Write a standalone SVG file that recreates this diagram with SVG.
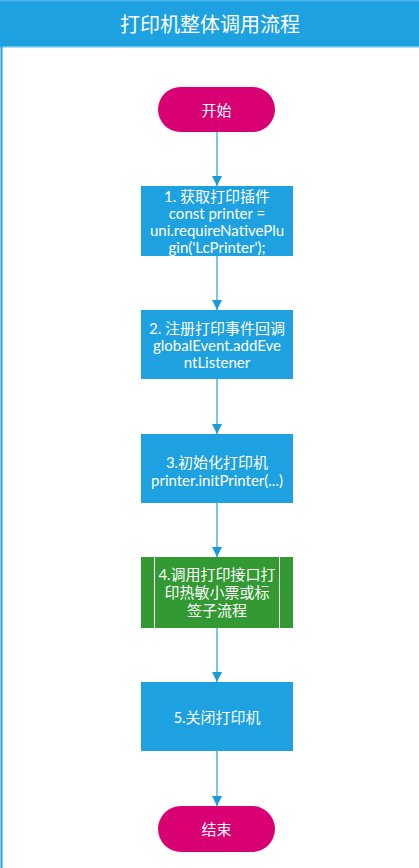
<svg xmlns="http://www.w3.org/2000/svg" width="419" height="868" viewBox="0 0 419 868">
<defs>
<style>
.t{font-family:Lato,"Noto Sans CJK SC",sans-serif;fill:#fff;text-anchor:middle;dominant-baseline:central}
.h{font-family:"Noto Sans CJK SC",sans-serif}
.b{fill:#1ea1e0}
.p{fill:#d80073}
.g{fill:#339933}
.c{stroke:#4fb2e5;stroke-width:1.5;fill:none}
</style>
<marker id="ah" markerWidth="11" markerHeight="10" refX="10" refY="5" orient="auto" markerUnits="userSpaceOnUse">
<path d="M0,0 L10,5 L0,10 Z" fill="#1a9ad8"/>
</marker>
</defs>
<rect width="419" height="868" fill="#fff"/>
<g id="frame">
<rect x="0" y="0" width="419" height="47" fill="#1ea1e0"/>
<rect x="0" y="0" width="419" height="1.5" fill="#45b2ea"/>
<rect x="0" y="46" width="419" height="1.5" fill="#62c0ee"/>
<rect x="0.5" y="46" width="2" height="822" fill="#1ea1e0"/>
<text class="t h" x="210" y="23" font-size="20">打印机整体调用流程</text>
</g>
<g id="connectors">
<line class="c" x1="217" y1="132" x2="217" y2="186" marker-end="url(#ah)"/>
<line class="c" x1="217" y1="256" x2="217" y2="310" marker-end="url(#ah)"/>
<line class="c" x1="217" y1="379" x2="217" y2="434" marker-end="url(#ah)"/>
<line class="c" x1="217" y1="503" x2="217" y2="557" marker-end="url(#ah)"/>
<line class="c" x1="217" y1="628" x2="217" y2="682" marker-end="url(#ah)"/>
<line class="c" x1="217" y1="751" x2="217" y2="806" marker-end="url(#ah)"/>
</g>
<g id="start">
<rect class="p" x="158" y="87" width="117" height="45" rx="22.5"/>
<text class="t" x="216.5" y="109.5" font-size="15">开始</text>
</g>
<g id="step1">
<rect class="b" x="141" y="186" width="152" height="70"/>
<text class="t" font-size="15"><tspan x="217" y="196">1. 获取打印插件</tspan><tspan x="217" y="213">const printer =</tspan><tspan x="217" y="230">uni.requireNativePlu</tspan><tspan x="217" y="247">gin('LcPrinter');</tspan></text>
</g>
<g id="step2">
<rect class="b" x="141" y="310" width="152" height="69"/>
<text class="t" font-size="15"><tspan x="217" y="328">2. 注册打印事件回调</tspan><tspan x="217" y="345">globalEvent.addEve</tspan><tspan x="217" y="362">ntListener</tspan></text>
</g>
<g id="step3">
<rect class="b" x="141" y="434" width="152" height="69"/>
<text class="t" font-size="15"><tspan x="217" y="462">3.初始化打印机</tspan><tspan x="217" y="480">printer.initPrinter(...)</tspan></text>
</g>
<g id="step4">
<rect class="g" x="141" y="557" width="152" height="71"/>
<line x1="154.5" y1="557" x2="154.5" y2="628" stroke="#fff" stroke-width="1"/>
<line x1="279.5" y1="557" x2="279.5" y2="628" stroke="#fff" stroke-width="1"/>
<text class="t" font-size="15"><tspan x="217" y="574">4.调用打印接口打</tspan><tspan x="217" y="592">印热敏小票或标</tspan><tspan x="217" y="610">签子流程</tspan></text>
</g>
<g id="step5">
<rect class="b" x="141" y="682" width="152" height="69"/>
<text class="t" x="217" y="716.5" font-size="15">5.关闭打印机</text>
</g>
<g id="end">
<rect class="p" x="158" y="806" width="117" height="46" rx="23"/>
<text class="t" x="216.5" y="829" font-size="15">结束</text>
</g>
</svg>
